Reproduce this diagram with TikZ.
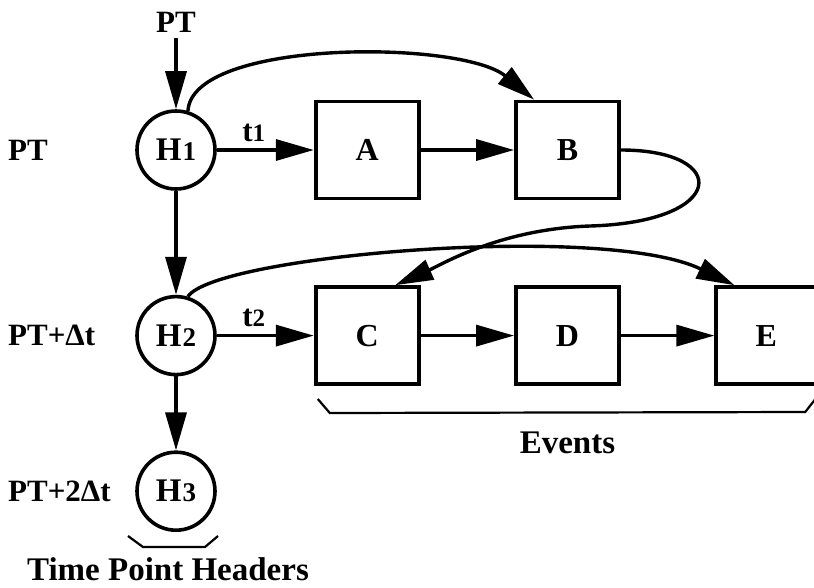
\documentclass[tikz,border=0pt]{standalone}
\usepackage{fontspec}
\setmainfont{Liberation Serif}
\usepackage{tikz}
\usetikzlibrary{positioning,arrows.meta,calc}

\newcommand{\hsub}[1]{{\fontsize{33}{33}\selectfont H}\kern1pt{\fontsize{27}{27}\selectfont #1}}
\newcommand{\tsub}[1]{t{\fontsize{25}{25}\selectfont #1}}

\begin{document}
\begin{tikzpicture}[
      x=1pt, y=-1pt,
      node distance=104pt and 93.5pt,
      every node/.style={font=\bfseries\fontsize{31}{31}\selectfont, inner sep=0pt},
      hdr/.style={draw, circle, line width=3.6pt, minimum size=78pt},
      evbox/.style={draw, rectangle, line width=3.8pt, minimum width=103pt, minimum height=97pt, font=\bfseries\fontsize{32}{32}\selectfont},
      arr/.style={line width=3.4pt, -{Triangle[length=38pt, width=21pt]}},
      brace/.style={line width=2.2pt},
      caption/.style={font=\bfseries\fontsize{33}{33}\selectfont},
    ]
    \useasboundingbox (0,0) rectangle (814,587);
    \node[hdr] (h1) at (176,150) {\hsub{1}};
    \node[hdr, below=of h1] (h2) {\hsub{2}};
    \node[hdr, below=74pt of h2] (h3) {\hsub{3}};
    \node[above=77pt of h1] (ptop) {PT};
    \node[evbox, right=97pt of h1] (a) {A};
    \node[evbox, right=of a] (b) {B};
    \node[evbox, right=97pt of h2] (c) {C};
    \node[evbox, right=of c] (d) {D};
    \node[evbox, right=of d, minimum width=100pt] (e) {E};
    % time labels on the left
    \coordinate (lcol) at (8,0);
    \node[anchor=west] (lpt0) at (lcol |- h1) {PT};
    \node[anchor=west] (lpt1) at (lcol |- h2) {PT+Δt};
    \node[anchor=west] (lpt2) at (lcol |- h3) {PT+2Δt};
    \node[caption, below=46pt of d] (events) {Events};
    \node[caption, below=25pt of h3, xshift=-8pt] (tph) {Time Point Headers};
    \coordinate (bend) at (590,226);
    % straight links
    \draw[arr, shorten <=6pt] (ptop) -- (h1);
    \draw[arr] (h1) -- node[above=7pt, pos=0.38] (t1) {\tsub{1}} (a);
    \draw[arr] (a) -- (b);
    \draw[arr] (h1) -- (h2);
    \draw[arr] (h2) -- node[above=7pt, pos=0.38] (t2) {\tsub{2}} (c);
    \draw[arr] (c) -- (d);
    \draw[arr] (d) -- (e);
    \draw[arr] (h2) -- (h3);
    % curved links
    \draw[arr] (h1.73) .. controls +(4,-72) and +(-73,-60) .. ([xshift=20pt]b.north west);
    \draw[arr] (b.east) .. controls +(110,0) and +(138,-4) .. (bend)
      .. controls +(-90,3) and +(45,-20) .. ([xshift=28pt]c.north);
    \draw[arr] (h2.73) .. controls +(27,-41) and +(-131,-63) .. ([xshift=20pt]e.north west);
    % braces
    \draw[brace] ([shift={(4,13)}]c.south west) -- ++(12,14) -- ([shift={(-13,26)}]e.south east) -- ++(11,-14);
    \draw[brace] ([shift={(-48,4)}]h3.south) -- ++(15,11) -- ([shift={(29,15)}]h3.south) -- ++(13,-11);
  \end{tikzpicture}
\end{document}
